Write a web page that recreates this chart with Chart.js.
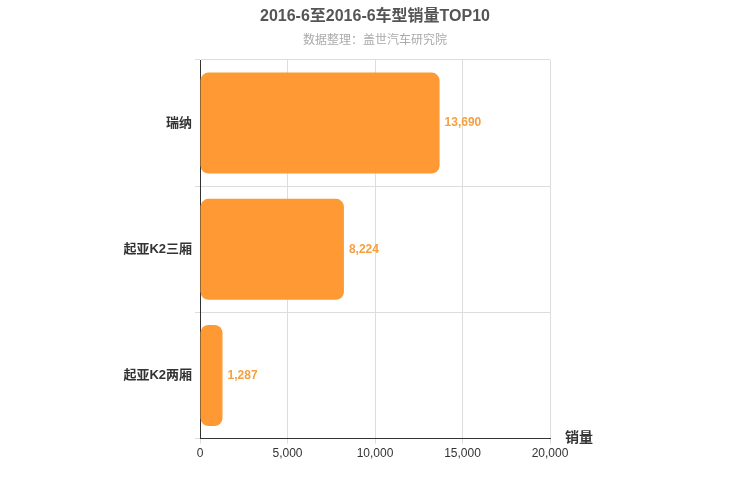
<!DOCTYPE html>
<html><head><meta charset="utf-8">
<script src="https://cdn.jsdelivr.net/npm/chart.js@4"></script>
<style>body{margin:0}#w{width:750px;height:500px}</style></head>
<body><div id="w"><canvas id="c"></canvas></div>
<script>
const categories = ["瑞纳", "起亚K2三厢", "起亚K2两厢"];
const sales = [13690, 8224, 1287];
const xTicks = [0, 5000, 10000, 15000, 20000];
const F = '"Helvetica Neue", Arial, "Noto Sans CJK SC", sans-serif';
const extras = {
  id: 'extras',
  afterDatasetsDraw(chart) {
    const ctx = chart.ctx;
    const meta = chart.getDatasetMeta(0);
    ctx.save();
    ctx.font = 'bold 12px ' + F;
    ctx.fillStyle = '#F5A040';
    ctx.textBaseline = 'middle';
    meta.data.forEach((b, i) => {
      ctx.fillText(sales[i].toLocaleString('en-US'), b.x + 5, b.y);
    });
    ctx.fillStyle = '#333';
    ctx.font = 'bold 14px ' + F;
    ctx.fillText('销量', 565, chart.chartArea.bottom);
    ctx.textAlign = 'center';
    ctx.fillStyle = '#555';
    ctx.font = 'bold 16px ' + F;
    ctx.fillText('2016-6至2016-6车型销量TOP10', 375, 17);
    ctx.fillStyle = '#aaa';
    ctx.font = '12px ' + F;
    ctx.fillText('数据整理：盖世汽车研究院', 375, 41);
    ctx.restore();
  }
};
new Chart(document.getElementById('c'), {
  type: 'bar',
  data: { labels: categories, datasets: [{ data: sales, backgroundColor: '#FF9933', borderRadius: 8, borderSkipped: false, categoryPercentage: 1, barPercentage: 0.8 }] },
  options: {
    indexAxis: 'y', responsive: true, maintainAspectRatio: false, animation: false,
    layout: { padding: { right: 200, bottom: 36, top: 60 } },
    plugins: { legend: { display: false }, tooltip: { enabled: false } },
    scales: {
      x: { min: 0, max: 20000, afterBuildTicks: s => { s.ticks = xTicks.map(v => ({ value: v })); },
        ticks: { color: '#333', font: { size: 12, family: F }, callback: v => v.toLocaleString('en-US') },
        grid: { color: '#ddd', drawTicks: true, tickLength: 5 }, border: { color: '#333' } },
      y: { afterFit: s => { s.width = 200; },
        ticks: { color: '#333', font: { size: 13, weight: 'bold', family: F } },
        grid: { offset: true, color: '#ddd', tickLength: 5 }, border: { color: '#333' } }
    }
  },
  plugins: [extras]
});
</script></body></html>
